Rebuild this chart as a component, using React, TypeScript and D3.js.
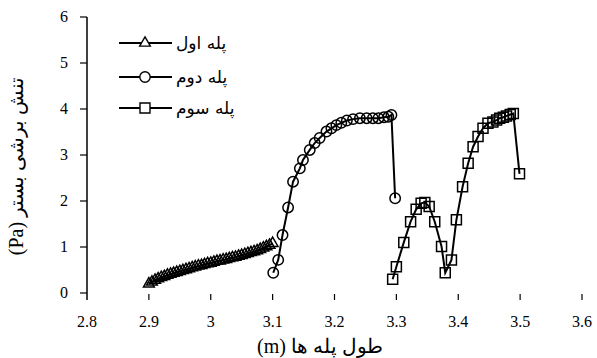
import React, { useEffect, useRef } from "react";
import * as d3 from "d3";

// x = length along the steps (m), y = bed shear stress (Pa)
const step1X = [2.9, 2.905, 2.91, 2.915, 2.92, 2.925, 2.93, 2.935, 2.94, 2.945, 2.95, 2.955, 2.96, 2.965, 2.97, 2.975, 2.98, 2.985, 2.99, 2.995, 3.0, 3.005, 3.01, 3.015, 3.02, 3.025, 3.03, 3.035, 3.04, 3.045, 3.05, 3.055, 3.06, 3.065, 3.07, 3.075, 3.08, 3.085, 3.09, 3.095, 3.1];
const step1Y = [0.2, 0.24, 0.28, 0.31, 0.34, 0.36, 0.39, 0.41, 0.43, 0.45, 0.47, 0.49, 0.51, 0.53, 0.55, 0.57, 0.59, 0.6, 0.62, 0.64, 0.65, 0.67, 0.69, 0.7, 0.72, 0.73, 0.75, 0.77, 0.78, 0.8, 0.82, 0.84, 0.86, 0.88, 0.9, 0.92, 0.95, 0.98, 1.01, 1.04, 1.08];

const step2X = [3.101, 3.109, 3.116, 3.125, 3.133, 3.144, 3.149, 3.16, 3.168, 3.176, 3.187, 3.195, 3.203, 3.211, 3.22, 3.23, 3.241, 3.252, 3.262, 3.271, 3.28, 3.287, 3.292, 3.298];
const step2Y = [0.44, 0.72, 1.26, 1.86, 2.42, 2.71, 2.89, 3.11, 3.26, 3.37, 3.51, 3.58, 3.65, 3.7, 3.75, 3.78, 3.8, 3.8, 3.8, 3.8, 3.82, 3.83, 3.87, 2.06];

const step3X = [3.294, 3.3, 3.312, 3.323, 3.332, 3.34, 3.346, 3.353, 3.362, 3.373, 3.379, 3.389, 3.397, 3.407, 3.416, 3.424, 3.432, 3.44, 3.448, 3.456, 3.462, 3.467, 3.473, 3.478, 3.484, 3.489, 3.499];
const step3Y = [0.3, 0.57, 1.1, 1.55, 1.82, 1.95, 1.97, 1.88, 1.55, 1.01, 0.44, 0.72, 1.59, 2.31, 2.82, 3.18, 3.4, 3.58, 3.69, 3.72, 3.76, 3.8, 3.82, 3.85, 3.88, 3.9, 2.59];

const seriesNames = ["پله اول", "پله دوم", "پله سوم"];
const xTicks = [2.8, 2.9, 3, 3.1, 3.2, 3.3, 3.4, 3.5, 3.6];
const yTicks = [0, 1, 2, 3, 4, 5, 6];

const W = 597;
const H = 358;
const font = "Liberation Serif";
const faFont = "DejaVu Sans";

const App = () => {
  const ref = useRef<SVGSVGElement>(null);

  useEffect(() => {
    const svg = d3.select(ref.current);
    svg.selectAll("*").remove();

    const x = d3.scaleLinear().domain([2.8, 3.6]).range([87, 582]);
    const y = d3.scaleLinear().domain([0, 6]).range([293, 17]);

    // y axis
    const gy = svg.append("g");
    gy.append("line")
      .attr("x1", x(2.8)).attr("x2", x(2.8))
      .attr("y1", y(6)).attr("y2", 300)
      .attr("stroke", "#000").attr("stroke-width", 1.5);
    gy.selectAll(".yt")
      .data(yTicks)
      .enter()
      .append("line")
      .attr("x1", x(2.8) - 7).attr("x2", x(2.8))
      .attr("y1", (d) => y(d)).attr("y2", (d) => y(d))
      .attr("stroke", "#000").attr("stroke-width", 1.2);
    gy.selectAll("text")
      .data(yTicks)
      .enter()
      .append("text")
      .attr("x", 68)
      .attr("y", (d) => y(d) + 5)
      .attr("text-anchor", "end")
      .attr("font-family", font)
      .attr("font-size", 16)
      .text((d) => d);

    // x axis ticks (no axis line)
    const gx = svg.append("g");
    gx.selectAll("line")
      .data(xTicks.slice(1))
      .enter()
      .append("line")
      .attr("x1", (d) => x(d)).attr("x2", (d) => x(d))
      .attr("y1", 294).attr("y2", 300)
      .attr("stroke", "#000").attr("stroke-width", 1.2);
    gx.selectAll("text")
      .data(xTicks)
      .enter()
      .append("text")
      .attr("x", (d) => x(d))
      .attr("y", 327)
      .attr("text-anchor", "middle")
      .attr("font-family", font)
      .attr("font-size", 16)
      .text((d) => (d === 3 ? "3" : d.toFixed(1)));

    // axis titles (right-to-left text)
    svg.append("text")
      .attr("x", 320)
      .attr("y", 353)
      .attr("text-anchor", "middle")
      .attr("direction", "rtl")
      .attr("font-family", font)
      .attr("font-size", 20)
      .text("طول پله ها (m)");
    svg.append("text")
      .attr("transform", "translate(23,166) rotate(-90)")
      .attr("text-anchor", "middle")
      .attr("direction", "rtl")
      .attr("font-family", font)
      .attr("font-size", 20)
      .text("تنش برشی بستر (Pa)");

    const line = d3.line<[number, number]>()
      .x((d) => x(d[0]))
      .y((d) => y(d[1]));

    const tri = d3.symbol().type(d3.symbolTriangle).size(50)();
    const sq = d3.symbol().type(d3.symbolSquare).size(100)();
    const circ = d3.symbol().type(d3.symbolCircle).size(85)();
    const markers = [tri, circ, sq];

    const series = [
      d3.zip(step1X, step1Y) as [number, number][],
      d3.zip(step2X, step2Y) as [number, number][],
      d3.zip(step3X, step3Y) as [number, number][],
    ];

    series.forEach((pts, i) => {
      const g = svg.append("g");
      g.append("path")
        .attr("d", line(pts))
        .attr("fill", "none")
        .attr("stroke", "#000")
        .attr("stroke-width", 2);
      g.selectAll("path.m")
        .data(pts)
        .enter()
        .append("path")
        .attr("class", "m")
        .attr("d", markers[i])
        .attr("transform", (d) => `translate(${x(d[0])},${y(d[1])})`)
        .attr("fill", "none")
        .attr("stroke", "#000")
        .attr("stroke-width", 1.5);
    });

    // legend
    const legendY = [43, 77, 108];
    const leg = svg.append("g");
    seriesNames.forEach((name, i) => {
      leg.append("line")
        .attr("x1", 119).attr("x2", 172)
        .attr("y1", legendY[i]).attr("y2", legendY[i])
        .attr("stroke", "#000").attr("stroke-width", 2);
      leg.append("path")
        .attr("d", markers[i])
        .attr("transform", `translate(145,${legendY[i]})`)
        .attr("fill", "#fff")
        .attr("stroke", "#000")
        .attr("stroke-width", 1.4);
      const t = leg.append("text")
        .attr("x", 176)
        .attr("y", legendY[i] + 6)
        .attr("direction", "rtl")
        .attr("text-anchor", "end")
        .attr("font-family", faFont)
        .attr("font-size", 17)
        .text(name);
      // pin the visual left edge of the label next to the legend line
      const bb = (t.node() as SVGTextElement).getBBox();
      t.attr("x", 176 + (176 - bb.x));
    });
  }, []);

  return (
    <svg
      ref={ref}
      width={W}
      height={H}
      style={{ position: "absolute", left: 0, top: 0, background: "#fff" }}
    />
  );
};

export default App;
